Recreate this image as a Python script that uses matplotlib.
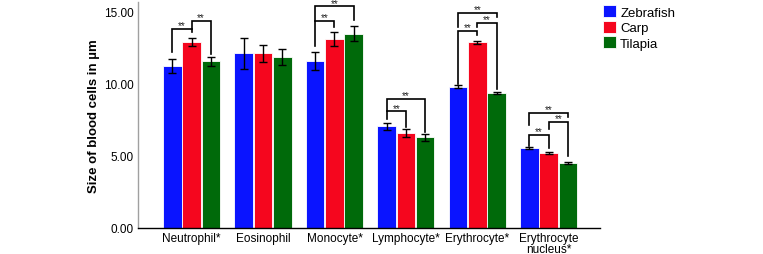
import numpy as np
import matplotlib
matplotlib.use("Agg")
import matplotlib.pyplot as plt

plt.rcParams["font.family"] = ["Liberation Sans", "DejaVu Sans"]

# ─── Data ────────────────────────────────────────────────────────────────────
cells = ["Neutrophil*", "Eosinophil", "Monocyte*", "Lymphocyte*",
         "Erythrocyte*", "Erythrocyte\nnucleus*"]
species = ["Zebrafish", "Carp", "Tilapia"]
colors = ["#0a14ff", "#f5061e", "#006a0a"]

zebrafish = [11.22, 12.10, 11.58, 7.05, 9.78, 5.55]
carp = [12.88, 12.10, 13.08, 6.58, 12.88, 5.18]
tilapia = [11.55, 11.83, 13.47, 6.28, 9.36, 4.48]

zebrafish_err = [0.47, 1.07, 0.60, 0.23, 0.10, 0.07]
carp_err = [0.30, 0.60, 0.48, 0.30, 0.10, 0.07]
tilapia_err = [0.30, 0.55, 0.50, 0.25, 0.10, 0.07]

# significance brackets: (group, bar_a, bar_b, top, left_bottom, right_bottom)
brackets = [
    (0, 0, 1, 13.79, 12.20, 13.58),
    (0, 1, 2, 14.37, 13.79, 12.06),
    (2, 0, 1, 14.37, 12.63, 13.91),
    (2, 0, 2, 15.36, 14.37, 14.44),
    (3, 0, 1, 8.09, 7.55, 7.00),
    (3, 0, 2, 8.94, 8.09, 6.67),
    (4, 0, 1, 13.67, 9.98, 13.37),
    (4, 1, 2, 14.20, 13.90, 9.63),
    (4, 0, 2, 14.90, 13.90, 14.60),
    (5, 0, 1, 6.44, 5.70, 5.55),
    (5, 1, 2, 7.37, 6.86, 5.00),
    (5, 0, 2, 7.97, 7.14, 7.67),
]

# ─── Plot ────────────────────────────────────────────────────────────────────
fig = plt.figure(figsize=(7.63, 2.55), dpi=100)
ax = fig.add_axes([0.181, 0.102, 0.605, 0.886])

x = np.arange(len(cells))
offset = 0.27
width = 0.26
series = [zebrafish, carp, tilapia]
errs = [zebrafish_err, carp_err, tilapia_err]

for i, (vals, err) in enumerate(zip(series, errs)):
    xs = x + (i - 1) * offset
    ax.bar(xs, vals, width=width, color=colors[i], edgecolor="white",
           linewidth=0.6, label=species[i], zorder=2)
    ax.errorbar(xs, vals, yerr=err, fmt="none", ecolor="black",
                elinewidth=1.0, capsize=2.8, capthick=1.0, zorder=3)

for g, a, b, top, lb, rb in brackets:
    xa = g + (a - 1) * offset
    xb = g + (b - 1) * offset
    ax.plot([xa, xa, xb, xb], [lb, top, top, rb], color="black",
            linewidth=1.2, solid_joinstyle="miter", zorder=4)
    ax.text((xa + xb) / 2, top - 0.1, "**", ha="center", va="bottom",
            fontsize=7, color="#222222", zorder=4, clip_on=False)

ax.set_xlim(-0.748, 5.713)
ax.set_ylim(0, 15.66)
ax.set_yticks([0, 5, 10, 15])
ax.set_yticklabels(["0.00", "5.00", "10.00", "15.00"])
ax.set_xticks(x)
ax.set_xticklabels(cells, fontsize=8.5, linespacing=0.85)
ax.tick_params(axis="both", length=0, labelsize=8.5)
ax.tick_params(axis="y", pad=3)
ax.tick_params(axis="x", pad=3)

ax.spines["top"].set_visible(False)
ax.spines["right"].set_visible(False)
ax.spines["left"].set_color("#a0a0a0")
ax.spines["left"].set_linewidth(1.0)
ax.spines["bottom"].set_color("black")
ax.spines["bottom"].set_linewidth(1.0)

ax.set_ylabel("Size of blood cells in µm", fontsize=9.5, fontweight="bold",
              labelpad=3)

ax.legend(loc="upper left", bbox_to_anchor=(0.99, 1.02), frameon=False,
          fontsize=9.5, handlelength=1.0, handleheight=1.0,
          handletextpad=0.3, labelspacing=0.15, borderaxespad=0.2)

fig.savefig("out.png", dpi=100)
